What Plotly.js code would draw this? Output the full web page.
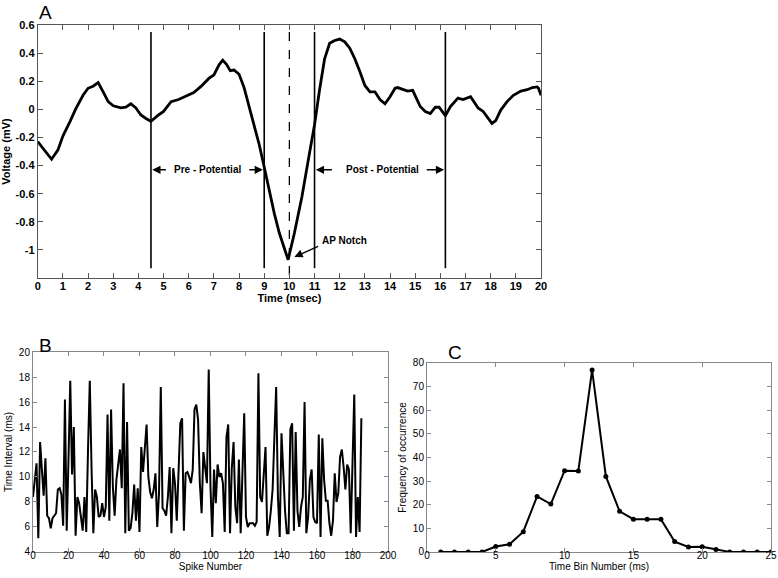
<!DOCTYPE html>
<html>
<head>
<meta charset="utf-8">
<script src="https://cdn.plot.ly/plotly-3.0.1.min.js"></script>
<style>
  body { margin: 0; background: #fff; }
  #chart { width: 778px; height: 578px; }
</style>
</head>
<body>
<div id="chart"></div>
<script>
// panel A: averaged spike waveform (time in msec, voltage in mV)
let timeA = [0, 0.3, 0.55, 0.8, 1.0, 1.3, 1.5, 1.8, 2.0, 2.2, 2.4, 2.6, 2.8, 3.0, 3.3, 3.5, 3.7, 3.9,
    4.1, 4.3, 4.5, 4.8, 5.0, 5.3, 5.6, 5.9, 6.2, 6.5, 6.8, 7.0, 7.2, 7.35, 7.5, 7.65, 7.8, 8.0,
    8.2, 8.4, 8.6, 8.8, 9.0, 9.2, 9.4, 9.6, 9.8, 9.95, 10.2, 10.5, 10.8, 11.0, 11.2, 11.4, 11.6,
    11.8, 12.0, 12.2, 12.4, 12.6, 12.8, 13.0, 13.2, 13.4, 13.6, 13.8, 14.0, 14.2, 14.3, 14.5,
    14.7, 14.9, 15.0, 15.2, 15.4, 15.6, 15.8, 15.95, 16.2, 16.4, 16.7, 16.9, 17.2, 17.3, 17.5,
    17.7, 17.9, 18.05, 18.2, 18.4, 18.65, 18.9, 19.2, 19.45, 19.65, 19.85, 19.9, 20]
let voltA = [-0.23, -0.30, -0.355, -0.29, -0.19, -0.08, 0.0, 0.10, 0.15, 0.165, 0.19, 0.125, 0.055,
    0.025, 0.01, 0.015, 0.04, 0.01, -0.04, -0.065, -0.085, -0.04, -0.015, 0.055, 0.07, 0.095,
    0.12, 0.165, 0.22, 0.245, 0.315, 0.35, 0.32, 0.275, 0.28, 0.25, 0.155, 0.02, -0.11, -0.25,
    -0.41, -0.575, -0.74, -0.88, -0.99, -1.07, -0.88, -0.62, -0.31, -0.11, 0.14, 0.36, 0.47,
    0.49, 0.50, 0.48, 0.435, 0.36, 0.27, 0.17, 0.125, 0.125, 0.07, 0.04, 0.09, 0.15, 0.155, 0.14,
    0.13, 0.135, 0.10, 0.02, -0.015, -0.03, 0.015, 0.015, -0.045, 0.02, 0.08, 0.07, 0.09, 0.065,
    0.01, -0.015, -0.065, -0.10, -0.08, -0.005, 0.055, 0.10, 0.13, 0.14, 0.155, 0.16, 0.15, 0.10]
let windowTimes = [4.5, 9, 11, 16.2]
let notchTime = 10
let lineTop = 0.55
let lineBottom = -1.13
let voltTicks = [-1, -0.8, -0.6, -0.4, -0.2, 0, 0.2, 0.4, 0.6]
let voltTickText = ['-1', '-0.8', '-0.6', '-0.4', '-0.2', '0', '0.2', '0.4', '0.6']

// panel B: inter-spike intervals
let intervalB = [8.4, 9.8, 11.1, 5.1, 12.8, 10.6, 8.5, 11.5, 6.9, 6.7, 5.9, 6.7, 6.9, 7.1, 9.0, 9.1,
    8.6, 6.1, 16.2, 5.7, 11.4, 17.7, 10.2, 14.0, 5.3, 8.4, 7.9, 6.8, 5.7, 8.4, 5.6, 12.2, 17.7,
    10.6, 5.5, 9.0, 8.4, 6.8, 6.9, 7.9, 6.8, 7.6, 15.0, 6.5, 15.4, 9.2, 6.9, 9.8, 11.2, 12.2,
    9.1, 17.5, 5.5, 14.4, 5.7, 5.9, 7.1, 9.4, 6.5, 9.1, 5.6, 12.4, 10.4, 12.2, 14.2, 10.0, 8.8,
    8.3, 9.0, 10.3, 6.0, 8.7, 17.2, 7.5, 7.3, 6.9, 8.4, 10.8, 5.5, 10.7, 9.5, 6.5, 10.6, 14.3,
    14.7, 5.7, 10.3, 10.4, 10.0, 9.5, 10.6, 15.4, 15.8, 14.6, 9.5, 7.1, 12.0, 10.6, 9.5, 18.6,
    9.2, 5.2, 10.6, 7.9, 11.0, 10.0, 10.3, 9.5, 5.6, 13.2, 14.2, 5.5, 10.7, 12.8, 7.6, 6.3, 11.4,
    5.5, 10.6, 15.1, 6.8, 6.0, 6.3, 6.3, 6.3, 6.1, 6.4, 18.3, 8.4, 8.0, 10.0, 12.4, 5.3, 6.0,
    7.3, 9.0, 13.2, 17.2, 8.4, 5.2, 13.5, 9.8, 7.3, 5.5, 5.5, 13.8, 14.3, 5.7, 13.6, 7.3, 6.0,
    7.6, 8.4, 16.0, 5.5, 6.8, 9.8, 10.6, 6.8, 6.4, 6.3, 13.4, 5.2, 13.1, 9.8, 8.1, 8.1, 6.3, 5.3,
    6.5, 10.3, 8.0, 8.7, 11.6, 12.2, 10.8, 9.0, 11.0, 10.6, 5.5, 12.4, 16.6, 5.2, 8.4, 5.6, 14.7]
let spikeNums = intervalB.map((v, i) => i)

// panel C: histogram of intervals
let binsC = [1, 2, 3, 4, 5, 6, 7, 8, 9, 10, 11, 12, 13, 14, 15, 16, 17, 18, 19, 20, 21, 22, 23, 24, 25]
let freqC = [0, 0, 0, 0, 2.3, 3.3, 8.6, 23.5, 20.3, 34.4, 34.3, 77, 32, 17.2, 13.9, 13.9, 13.9, 4.4,
    2.1, 2.2, 1.1, 0, 0, 0, 0]

let font = 'Liberation Sans, Arial, sans-serif'

let traces = []
traces.push({
    x: timeA, y: voltA, xaxis: 'x', yaxis: 'y',
    mode: 'lines', line: { color: '#000', width: 2.8 }, hoverinfo: 'skip'
})
windowTimes.forEach(t => {
    traces.push({
        x: [t, t], y: [lineTop, lineBottom], xaxis: 'x', yaxis: 'y',
        mode: 'lines', line: { color: '#000', width: 1.6 }, hoverinfo: 'skip'
    })
})
traces.push({
    x: [notchTime, notchTime], y: [lineTop, -1.2], xaxis: 'x', yaxis: 'y',
    mode: 'lines', line: { color: '#000', width: 1.3, dash: 'dash' }, hoverinfo: 'skip'
})
traces.push({
    x: spikeNums, y: intervalB, xaxis: 'x2', yaxis: 'y2',
    mode: 'lines', line: { color: '#000', width: 2 }, hoverinfo: 'skip'
})
traces.push({
    x: binsC, y: freqC, xaxis: 'x3', yaxis: 'y3',
    mode: 'lines+markers', line: { color: '#000', width: 2 },
    marker: { color: '#000', size: 5 }, hoverinfo: 'skip'
})

let boldTick = { family: font, size: 11, color: '#000', weight: 'bold' }
let plainTick = { family: font, size: 10, color: '#000' }

let axisBase = {
    showgrid: false, zeroline: false, showline: true, mirror: 'ticks',
    ticks: 'inside', ticklen: 5, tickcolor: '#555', linecolor: '#555', linewidth: 1
}
let lightAxis = { tickfont: plainTick, linecolor: '#888', tickcolor: '#888', ticklen: 4 }

let arrow = (x, y, ax, ay) => ({
    x: x, y: y, ax: ax, ay: ay, xref: 'x', yref: 'y', axref: 'x', ayref: 'y',
    text: '', showarrow: true, arrowhead: 2, arrowsize: 1.1, arrowwidth: 1.5, arrowcolor: '#000'
})
let note = (x, y, text) => ({
    x: x, y: y, xref: 'x', yref: 'y', text: text, showarrow: false,
    font: { family: font, size: 10, color: '#000', weight: 'bold' }
})
let panel = (x, y, text) => ({
    x: x, y: y, xref: 'paper', yref: 'paper', xanchor: 'center', yanchor: 'middle',
    text: text, showarrow: false,
    font: { family: font, size: 19, color: '#000' }
})

let layout = {
    width: 778, height: 578,
    margin: { l: 0, r: 0, t: 0, b: 0 },
    showlegend: false,
    paper_bgcolor: '#fff', plot_bgcolor: '#fff',
    xaxis: Object.assign({}, axisBase, {
        domain: [0.0485, 0.6954], anchor: 'y', range: [0, 20], dtick: 1, tick0: 0,
        tickfont: boldTick, ticklabelstandoff: -2,
        title: { text: 'Time (msec)', font: boldTick, standoff: 0 }
    }),
    yaxis: Object.assign({}, axisBase, {
        domain: [0.519, 0.9567], anchor: 'x', range: [-1.2, 0.6],
        tickvals: voltTicks, ticktext: voltTickText, tickfont: boldTick,
        title: { text: 'Voltage (mV)', font: boldTick, standoff: 4 }
    }),
    xaxis2: Object.assign({}, axisBase, lightAxis, {
        domain: [0.0424, 0.4987], anchor: 'y2', range: [0, 200], dtick: 20, tick0: 0,
        ticklabelstandoff: -6,
        title: { text: 'Spike Number', font: plainTick, standoff: 1 }
    }),
    yaxis2: Object.assign({}, axisBase, lightAxis, {
        domain: [0.045, 0.391], anchor: 'x2', range: [4, 20], dtick: 2, tick0: 4,
        title: { text: 'Time Interval (ms)', font: plainTick, standoff: 4 }
    }),
    xaxis3: Object.assign({}, axisBase, lightAxis, {
        domain: [0.5488, 0.991], anchor: 'y3', range: [0, 25], dtick: 5, tick0: 0,
        ticklabelstandoff: -6,
        title: { text: 'Time Bin Number (ms)', font: plainTick, standoff: 1 }
    }),
    yaxis3: Object.assign({}, axisBase, lightAxis, {
        domain: [0.045, 0.372], anchor: 'x3', range: [0, 80], dtick: 10, tick0: 0,
        title: { text: 'Frequency of occurrence', font: plainTick, standoff: 4 }
    }),
    annotations: [
        panel(0.058, 0.979, 'A'),
        panel(0.058, 0.402, 'B'),
        panel(0.585, 0.391, 'C'),
        note(6.76, -0.43, 'Pre - Potential'),
        arrow(4.55, -0.43, 5.15, -0.43),
        arrow(8.95, -0.43, 8.35, -0.43),
        note(13.7, -0.43, 'Post - Potential'),
        arrow(11.05, -0.43, 11.75, -0.43),
        arrow(16.15, -0.43, 15.4, -0.43),
        note(12.2, -0.93, 'AP Notch'),
        arrow(10.2, -1.05, 11.2, -0.97)
    ]
}

Plotly.newPlot('chart', traces, layout, { displayModeBar: false, staticPlot: true })
</script>
</body>
</html>
